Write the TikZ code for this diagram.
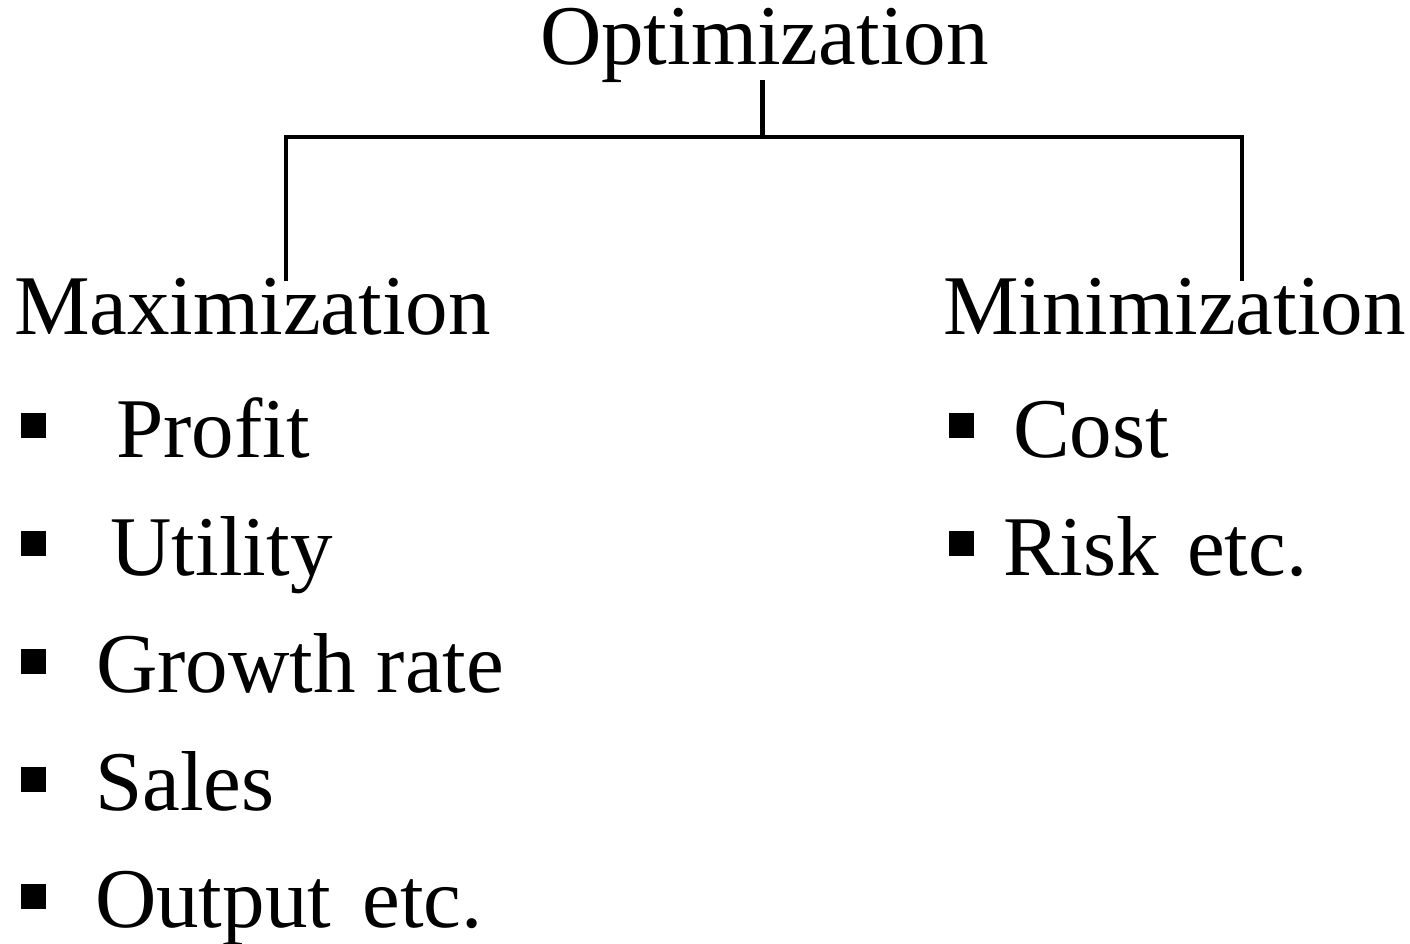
\documentclass[tikz,border=0pt]{standalone}
\usepackage{fontspec}
\setmainfont{Liberation Serif}
\begin{document}
\begin{tikzpicture}[x=1pt,y=-1pt,
  every node/.style={inner sep=0pt, outer sep=0pt, anchor=base west,
    font=\fontsize{85}{100}\selectfont},
  link/.style={line width=4.5pt, line join=miter, line cap=rect},
  bulletsq/.style={fill=black, minimum size=25pt, anchor=center, draw=none}]
\useasboundingbox (0,0) rectangle (1410,944);

% headings
\node (opt)  at (540,65)  {Optimization};
\node (maxi) at (14,334)  {Maximization};
\node (mini) at (943,334) {Minimization};

% tree connectors
\coordinate (stem) at (762.5,137);
\coordinate (barL) at (286,137);
\coordinate (barR) at (1242,137);
\coordinate (legL) at (286,281);
\coordinate (legR) at (1242,281);
\draw[link, line cap=butt] (stem |- opt.south) ++(0,-3) -- (stem);
\draw[link, line cap=butt] (legL) -- (barL) -- (barR) -- (legR);

% maximization items
\node[bulletsq] (b1) at (33.5,425.5) {};
\node (profit)  at (116,457)   {Profit};
\node[bulletsq] (b2) at (33.5,543.5) {};
\node (utility) at (110.5,575) {Utility};
\node[bulletsq] (b3) at (33.5,661) {};
\node (growth)  at (96,692)    {Growth rate};
\node[bulletsq] (b4) at (33.5,779) {};
\node (sales)   at (95,810)    {Sales};
\node[bulletsq] (b5) at (33.5,896.5) {};
\node (output)  at (95,927)    {Output\ \kern10pt etc.};

% minimization items
\node[bulletsq] (c1) at (961.5,425.5) {};
\node (cost)    at (1013,457)  {Cost};
\node[bulletsq] (c2) at (961.5,543.5) {};
\node (risk)    at (1003,575)  {Risk\ \kern7pt etc.};
\end{tikzpicture}
\end{document}
